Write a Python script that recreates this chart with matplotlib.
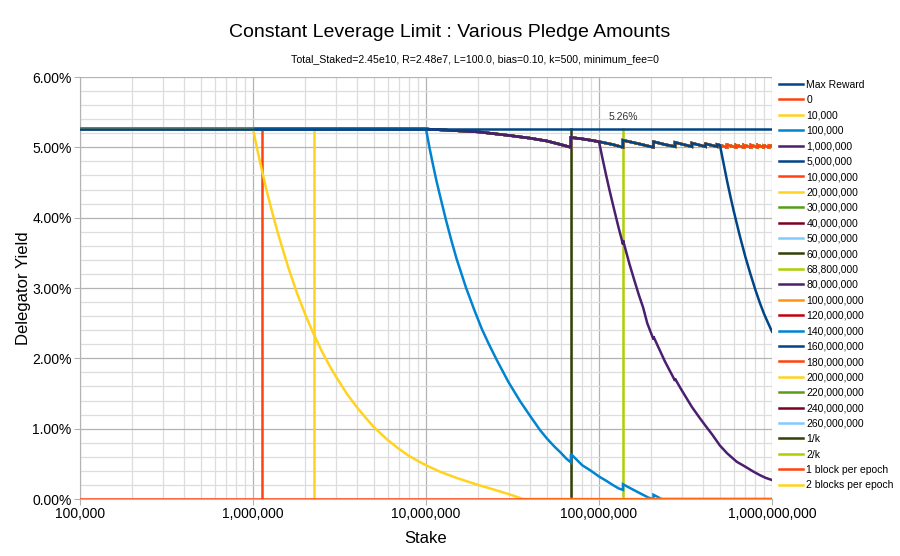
import matplotlib.pyplot as plt
from matplotlib.ticker import FuncFormatter, LogLocator, MultipleLocator, NullFormatter

plt.rcParams['font.family'] = ['Liberation Sans', 'DejaVu Sans']

# stake (ADA) and delegator yield (%)
max_reward_stake = [1e5, 1e9]
max_reward_yield = [5.26, 5.26]

zero_stake = [1e5, 1e9]
zero_yield = [0.0, 0.0]

p10k_stake = [1e5, 1e6, 1.05e6, 1.1e6, 1.2e6, 1.3e6, 1.4e6, 1.6e6, 1.8e6, 2e6, 2.2e6, 2.5e6,
              2.79e6, 3e6, 3.5e6, 4e6, 4.5e6, 5e6, 6e6, 7e6, 8e6, 9e6, 1e7, 1.2e7, 1.5e7,
              2e7, 2.5e7, 3e7, 3.65e7, 1e9]
p10k_yield = [5.26, 5.26, 5.01, 4.78, 4.38, 4.05, 3.76, 3.29, 2.92, 2.63, 2.39, 2.10,
              1.88, 1.75, 1.49, 1.30, 1.15, 1.02, 0.84, 0.71, 0.61, 0.54, 0.48, 0.39, 0.30,
              0.20, 0.13, 0.07, 0.0, 0.0]

p100k_stake = [1e5, 1e7, 1.05e7, 1.1e7, 1.15e7, 1.2e7, 1.3e7, 1.4e7, 1.5e7, 1.7e7, 1.9e7,
               2.1e7, 2.3e7, 2.56e7, 3e7, 3.5e7, 4e7, 4.56e7, 5e7, 5.5e7, 6e7, 6.5e7, 6.88e7,
               6.88e7, 8e7, 9e7, 1e8, 1.1e8, 1.2e8, 1.3e8, 1.376e8, 1.376e8, 1.5e8, 1.7e8,
               1.93e8, 2.064e8, 2.064e8, 2.3e8, 1e9]
p100k_yield = [5.26, 5.26, 4.98, 4.74, 4.52, 4.33, 3.98, 3.68, 3.42, 3.01, 2.69,
               2.42, 2.21, 1.98, 1.66, 1.39, 1.18, 0.98, 0.86, 0.75, 0.66, 0.57, 0.52,
               0.64, 0.48, 0.40, 0.32, 0.26, 0.20, 0.15, 0.13, 0.21, 0.16, 0.09,
               0.02, 0.0, 0.06, 0.0, 0.0]

p1m_stake = [1e5, 1e7, 2e7, 3e7, 4e7, 5e7, 6e7, 6.88e7, 6.88e7, 8e7, 9e7, 1e8, 1.05e8, 1.1e8,
             1.15e8, 1.2e8, 1.25e8, 1.3e8, 1.376e8, 1.376e8, 1.5e8, 1.6e8, 1.7e8, 1.8e8,
             1.9e8, 2.064e8, 2.064e8, 2.4e8, 2.752e8, 2.752e8, 3e8, 3.44e8, 3.8e8, 4.13e8,
             4.5e8, 5e8, 5.5e8, 6.25e8, 7e8, 7.8e8, 8.5e8, 9.2e8, 1e9]
p1m_yield = [5.26, 5.26, 5.22, 5.17, 5.13, 5.09, 5.04, 5.00, 5.14, 5.12, 5.10, 5.08, 4.83, 4.60,
             4.39, 4.20, 4.02, 3.85, 3.62, 3.68, 3.34, 3.11, 2.90, 2.72,
             2.50, 2.27, 2.31, 1.96, 1.68, 1.71, 1.55, 1.31, 1.16, 1.04,
             0.92, 0.76, 0.65, 0.53, 0.46, 0.39, 0.34, 0.30, 0.27]

p5m_stake = [1e5, 1e7, 2e7, 3e7, 4e7, 5e7, 6e7, 6.88e7, 6.88e7, 8e7, 9e7, 1e8, 1.2e8,
             1.376e8, 1.376e8, 1.7e8, 2.064e8, 2.064e8, 2.4e8, 2.752e8, 2.752e8, 3.44e8,
             3.44e8, 4.128e8, 4.128e8, 4.816e8, 4.816e8, 5e8, 5.25e8, 5.5e8, 5.75e8, 6e8,
             6.5e8, 7e8, 7.5e8, 8e8, 8.5e8, 9e8, 9.5e8, 1e9]
p5m_yield = [5.26, 5.26, 5.22, 5.17, 5.13, 5.09, 5.04, 5.00, 5.14, 5.12, 5.10, 5.08, 5.04,
             5.00, 5.10, 5.05, 5.00, 5.08, 5.04, 5.01, 5.07, 5.01,
             5.06, 5.01, 5.05, 5.01, 5.04, 5.03, 4.77, 4.52, 4.30, 4.10,
             3.75, 3.45, 3.20, 2.98, 2.79, 2.63, 2.50, 2.38]

p10m_stake = [1e5, 1e7, 2e7, 3e7, 4e7, 5e7, 6e7, 6.88e7, 6.88e7, 8e7, 9e7, 1e8, 1.2e8,
              1.376e8, 1.376e8, 1.7e8, 2.064e8, 2.064e8, 2.4e8, 2.752e8, 2.752e8, 3.44e8,
              3.44e8, 4.128e8, 4.128e8, 4.816e8, 4.816e8, 5.504e8, 5.504e8, 6.192e8, 6.192e8,
              6.88e8, 6.88e8, 7.568e8, 7.568e8, 8.256e8, 8.256e8, 8.944e8, 8.944e8,
              9.632e8, 9.632e8, 1e9]
p10m_yield = [5.26, 5.26, 5.22, 5.17, 5.13, 5.09, 5.04, 5.00, 5.14, 5.12, 5.10, 5.08, 5.04,
              5.00, 5.10, 5.05, 5.00, 5.08, 5.04, 5.01, 5.07, 5.01,
              5.06, 5.01, 5.05, 5.01, 5.04, 5.00, 5.035, 5.00, 5.03,
              5.00, 5.03, 5.00, 5.03, 5.00, 5.03, 5.00, 5.025,
              5.00, 5.025, 5.015]

# larger pledges sit underneath the 10,000,000 line over the whole range
big_pledges = ['20,000,000', '30,000,000', '40,000,000', '50,000,000', '60,000,000',
               '68,800,000', '80,000,000', '100,000,000', '120,000,000', '140,000,000',
               '160,000,000', '180,000,000', '200,000,000', '220,000,000', '240,000,000',
               '260,000,000']

# vertical markers
one_k = 6.88e7
two_k = 1.376e8
one_block = 1.127e6
two_blocks = 2.254e6
marker_yield = [0.0, 5.26]

navy = '#004586'
orangered = '#ff420e'
yellow = '#ffd320'
green = '#579d1c'
maroon = '#7e0021'
lightblue = '#83caff'
olive = '#314004'
yellowgreen = '#aecf00'
purple = '#4b1f6f'
orange = '#ff950e'
red = '#c5000b'
blue = '#0084d1'

big_colors = [yellow, green, maroon, lightblue, olive, yellowgreen, purple, orange, red,
              blue, navy, orangered, yellow, green, maroon, lightblue]

series = [
    ('Max Reward', max_reward_stake, max_reward_yield, navy),
    ('0', zero_stake, zero_yield, orangered),
    ('10,000', p10k_stake, p10k_yield, yellow),
    ('100,000', p100k_stake, p100k_yield, blue),
    ('1,000,000', p1m_stake, p1m_yield, purple),
    ('5,000,000', p5m_stake, p5m_yield, navy),
    ('10,000,000', p10m_stake, p10m_yield, orangered),
]
for name, col in zip(big_pledges, big_colors):
    series.append((name, p10m_stake, p10m_yield, col))
series.append(('1/k', [one_k, one_k], marker_yield, olive))
series.append(('2/k', [two_k, two_k], marker_yield, yellowgreen))
series.append(('1 block per epoch', [one_block, one_block], marker_yield, orangered))
series.append(('2 blocks per epoch', [two_blocks, two_blocks], marker_yield, yellow))

fig = plt.figure(figsize=(9, 5.56), dpi=100)
ax = fig.add_axes([0.0889, 0.1025, 0.7689, 0.759])

# earlier series are painted on top of later ones
n = len(series)
for i, (name, xs, ys, col) in enumerate(series):
    ax.plot(xs, ys, color=col, lw=1.8, label=name, zorder=10 + n - i, solid_joinstyle='miter')

ax.annotate('5.26%', (two_k, 5.26), xytext=(0, 5), textcoords='offset points',
            ha='center', va='bottom', fontsize=7.5, color='#333333', zorder=60)

ax.set_xscale('log')
ax.set_xlim(1e5, 1e9)
ax.set_ylim(0, 6)
ax.xaxis.set_major_locator(LogLocator(base=10))
ax.xaxis.set_minor_locator(LogLocator(base=10, subs=range(2, 10)))
ax.xaxis.set_minor_formatter(NullFormatter())
ax.xaxis.set_major_formatter(FuncFormatter(lambda v, p: '{:,.0f}'.format(v)))
ax.yaxis.set_major_locator(MultipleLocator(1))
ax.yaxis.set_minor_locator(MultipleLocator(0.2))
ax.yaxis.set_major_formatter(FuncFormatter(lambda v, p: '%.2f%%' % v))

ax.set_axisbelow(True)
ax.grid(which='major', color='#b3b3b3', lw=0.9)
ax.grid(which='minor', color='#dddddd', lw=0.9)
ax.tick_params(which='major', length=4, color='#b3b3b3', labelsize=10, pad=2)
ax.tick_params(which='minor', length=0)
for s in ['top', 'right']:
    ax.spines[s].set_visible(False)
for s in ['left', 'bottom']:
    ax.spines[s].set_color('#b3b3b3')

ax.set_xlabel('Stake', fontsize=12, labelpad=7)
ax.set_ylabel('Delegator Yield', fontsize=12, labelpad=1)

fig.text(0.5, 0.941, 'Constant Leverage Limit : Various Pledge Amounts', ha='center',
         va='center', fontsize=14)
fig.text(0.528, 0.894, 'Total_Staked=2.45e10, R=2.48e7, L=100.0, bias=0.10, k=500, minimum_fee=0',
         ha='center', va='center', fontsize=7.6)

fig.legend(loc='upper left', bbox_to_anchor=(0.866, 0.857), frameon=False, fontsize=7.5,
           handlelength=2.3, handletextpad=0.3, labelspacing=0.52, borderpad=0,
           borderaxespad=0)

fig.savefig('out.png', dpi=100)
